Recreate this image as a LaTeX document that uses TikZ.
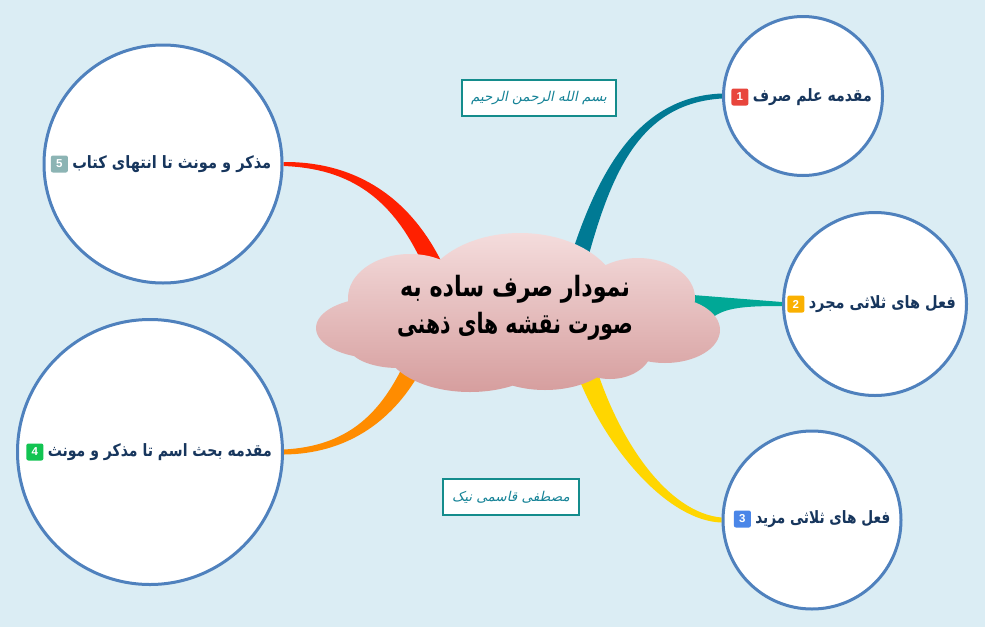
\documentclass[tikz,border=0pt]{standalone}
\usepackage{fontspec}
\usepackage{graphicx}
\usetikzlibrary{calc}
\TeXXeTstate=1
\newfontfamily\ar[Script=Arabic]{DejaVu Sans}
\newfontfamily\arit[Script=Arabic,FakeSlant=0.22]{DejaVu Sans}
\newfontfamily\numfont{Liberation Sans}
\definecolor{bg}{RGB}{219,237,244}
\definecolor{circc}{RGB}{79,129,189}
\definecolor{lblc}{RGB}{23,54,93}
\definecolor{cteal}{RGB}{0,122,148}
\definecolor{cgreen}{RGB}{0,168,150}
\definecolor{cyellow}{RGB}{255,214,0}
\definecolor{corange}{RGB}{255,140,0}
\definecolor{cred}{RGB}{255,32,0}
\definecolor{bA}{RGB}{232,69,60}
\definecolor{bB}{RGB}{250,176,0}
\definecolor{bC}{RGB}{74,134,232}
\definecolor{bD}{RGB}{18,196,82}
\definecolor{bE}{RGB}{140,180,180}
\definecolor{cloudtop}{RGB}{244,220,220}
\definecolor{cloudbot}{RGB}{214,158,158}
\definecolor{boxc}{RGB}{20,140,140}
\definecolor{boxt}{RGB}{20,130,150}
\pgfdeclarelayer{bgl}
\pgfdeclarelayer{conn}
\pgfsetlayers{bgl,conn,main}
\begin{document}
\begin{tikzpicture}[x=1pt,y=-1pt,
  circ/.style={circle,draw=circc,line width=3pt,fill=white,inner sep=0pt},
  lbl/.style={inner sep=0pt,text=lblc,font=\ar\bfseries\fontsize{17}{20}\selectfont},
  badge/.style={rounded corners=2pt,minimum width=17pt,minimum height=17pt,inner sep=0pt,text=white,font=\numfont\bfseries\fontsize{11.5}{12}\selectfont},
  tbox/.style={draw=boxc,line width=1.2pt,fill=white,minimum height=36pt,inner sep=0pt,text=boxt,font=\arit\fontsize{13.5}{15}\selectfont},
  roottext/.style={inner sep=0pt,align=center,font=\ar\bfseries\fontsize{28}{37}\selectfont}
]
\begin{pgfonlayer}{bgl}
\path[use as bounding box,fill=bg] (0,0) rectangle (985,627);
\end{pgfonlayer}

% cloud
\shade[top color=cloudtop,bottom color=cloudbot]
  (520,300) ellipse [x radius=100,y radius=67]
  (410,298) ellipse [x radius=62,y radius=44]
  (375,328) ellipse [x radius=59,y radius=30]
  (470,345) ellipse [x radius=85,y radius=47]
  (545,345) ellipse [x radius=75,y radius=45]
  (398,345) ellipse [x radius=50,y radius=23]
  (610,348) ellipse [x radius=42,y radius=31]
  (665,330) ellipse [x radius=55,y radius=33]
  (638,298) ellipse [x radius=57,y radius=40]
  (520,318) ellipse [x radius=150,y radius=45];
\node[roottext] (root) at (515,308) {\resizebox{230pt}{\height}{\beginR نمودار صرف ساده به\endR}\\\resizebox{236pt}{\height}{\beginR صورت نقشه های ذهنی\endR}};

% circles
\node[circ,minimum size=159pt] (c1) at (803,96) {};
\node[circ,minimum size=183pt] (c2) at (875,304) {};
\node[circ,minimum size=178pt] (c3) at (812,520) {};
\node[circ,minimum size=265pt] (c4) at (150,452) {};
\node[circ,minimum size=238pt] (c5) at (163,164) {};

% labels
\node[lbl,anchor=east] (l1) at ($(c1.east)+(-12,1)$) {\resizebox{119pt}{\height}{\beginR مقدمه علم صرف\endR}};
\node[badge,fill=bA,anchor=east] (n1) at ($(l1.west)+(-4,0)$) {1};
\node[lbl,anchor=east] (l2) at ($(c2.east)+(-12,0)$) {\resizebox{147pt}{\height}{\beginR فعل های ثلاثی مجرد\endR}};
\node[badge,fill=bB,anchor=east] (n2) at ($(l2.west)+(-4,0)$) {2};
\node[lbl,anchor=east] (l3) at ($(c3.east)+(-12,-1)$) {\resizebox{135pt}{\height}{\beginR فعل های ثلاثی مزید\endR}};
\node[badge,fill=bC,anchor=east] (n3) at ($(l3.west)+(-4,0)$) {3};
\node[lbl,anchor=east] (l4) at ($(c4.east)+(-12,0)$) {\resizebox{224pt}{\height}{\beginR مقدمه بحث اسم تا مذکر و مونث\endR}};
\node[badge,fill=bD,anchor=east] (n4) at ($(l4.west)+(-4,0)$) {4};
\node[lbl,anchor=east] (l5) at ($(c5.east)+(-12,0)$) {\resizebox{199pt}{\height}{\beginR مذکر و مونث تا انتهای کتاب\endR}};
\node[badge,fill=bE,anchor=east] (n5) at ($(l5.west)+(-4,0)$) {5};

% text boxes
\node[tbox,minimum width=154pt] (bis) at (539,98) {\beginR بسم الله الرحمن الرحیم\endR};
\node[tbox,minimum width=136pt] (auth) at (511,497) {\beginR مصطفی قاسمی نیک\endR};

% connectors
\coordinate (s1) at (578,262);
\coordinate (s2) at (680,296);
\coordinate (s3) at (587,372);
\coordinate (s4) at (412,368);
\coordinate (s5) at (433,265);
\begin{pgfonlayer}{conn}
\fill[cteal] ($(s1)+(8.2,2.4)$) .. controls (611.2,171.8) and (640.1,103.5) .. ($(c1.west)+(0,2.5)$)
  -- ($(c1.west)+(0,-2.5)$) .. controls (639.9,96.5) and (598.8,168.2) .. ($(s1)+(-8.2,-2.4)$) -- cycle;
\fill[cgreen] ($(s2)+(0,-2)$) -- ($(c2.west)+(0,-2)$) -- ($(c2.west)+(0,2)$)
  .. controls (748,306) and (725,307) .. (712,318) -- ($(s2)+(0,22)$) -- cycle;
\fill[cyellow] ($(s3)+(-9.4,3.5)$) .. controls (608,452.6) and (669.6,521) .. ($(c3.west)+(0,2.5)$)
  -- ($(c3.west)+(0,-2.5)$) .. controls (670.4,513) and (622,447.4) .. ($(s3)+(9.4,-3.5)$) -- cycle;
\fill[corange] ($(s4)+(-8,-4.1)$) .. controls (378.8,416.8) and (345,446.2) .. ($(c4.east)+(0,-2.5)$)
  -- ($(c4.east)+(0,2.5)$) .. controls (345,453.8) and (391.2,423.2) .. ($(s4)+(8,4.1)$) -- cycle;
\fill[cred] ($(s5)+(8.2,-3.8)$) .. controls (406.3,192) and (350,161.5) .. ($(c5.east)+(0,-2)$)
  -- ($(c5.east)+(0,2)$) .. controls (350,168.5) and (393.7,198) .. ($(s5)+(-8.2,3.8)$) -- cycle;
\end{pgfonlayer}
\end{tikzpicture}
\end{document}
